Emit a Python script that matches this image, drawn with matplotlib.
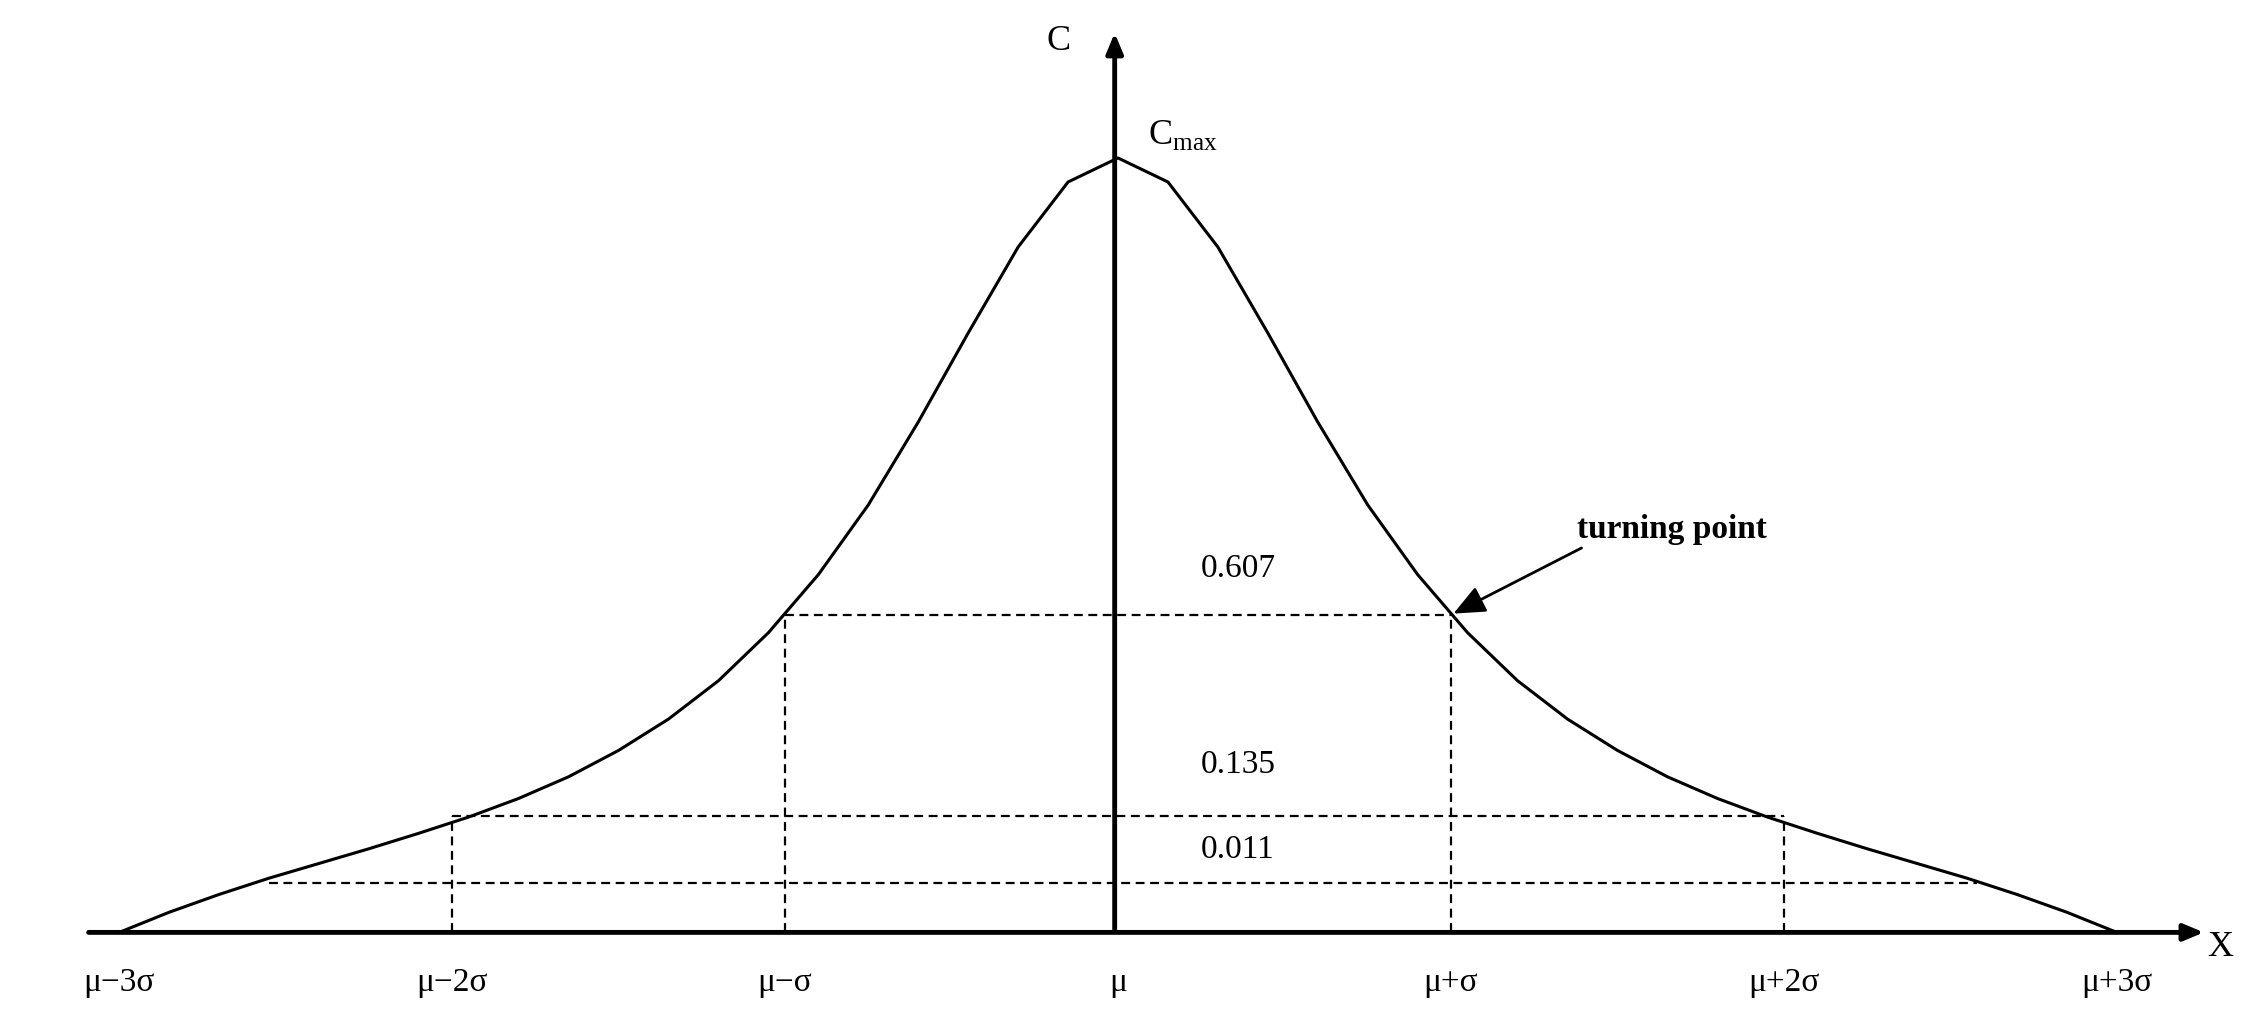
import matplotlib
matplotlib.use("Agg")
import matplotlib.pyplot as plt

# curve points (x in sigma units, height relative to Cmax)
xs_half = [0, 0.15, 0.3, 0.45, 0.6, 0.75, 0.9, 1.05, 1.2, 1.35, 1.5, 1.65, 1.8, 1.95,
           2.1, 2.25, 2.4, 2.55, 2.7, 2.85, 3.0]
ys_half = [1.0, 0.969, 0.885, 0.774, 0.659, 0.552, 0.462, 0.387, 0.325, 0.2755, 0.235,
           0.201, 0.173, 0.149, 0.128, 0.108, 0.089, 0.070, 0.049, 0.026, 0.0]
xs = [-x for x in xs_half[::-1]] + xs_half[1:]
ys = ys_half[::-1] + ys_half[1:]

levels = [0.41, 0.150, 0.064]
level_labels = ["0.607", "0.135", "0.011"]
level_extent = [(-1, 1), (-2, 2), (-2.55, 2.58)]
level_vertical = [True, True, False]
label_y = [0.47, 0.217, 0.107]

tick_pos = [-3, -2, -1, 0, 1, 2, 3]
tick_labels = ["μ−3σ", "μ−2σ", "μ−σ", "μ", "μ+σ", "μ+2σ", "μ+3σ"]

plt.rcParams['font.family'] = ['Liberation Serif', 'DejaVu Serif']
fig = plt.figure(figsize=(22.5, 10.23), dpi=100)
ax = fig.add_axes([0, 0, 1, 1])
ax.set_xlim(-3.358, 3.40)
ax.set_ylim(-0.117, 1.204)
ax.axis('off')

ax.plot(xs, ys, color='black', lw=2.2, zorder=3)

for lv, (a, b), vert in zip(levels, level_extent, level_vertical):
    ax.plot([a, b], [lv, lv], color='black', lw=1.6, ls=(0, (4, 2.5)))
    if vert:
        for xv in (a, b):
            ax.plot([xv, xv], [0, lv], color='black', lw=1.6, ls=(0, (4, 2.5)))

for lab, yy in zip(level_labels, label_y):
    ax.text(0.36, yy, lab, fontsize=24, ha='center', va='center')

# axes arrows
ax.annotate("", xy=(3.27, 0), xytext=(-3.10, 0),
            arrowprops=dict(arrowstyle='-|>,head_length=1.2,head_width=0.5', lw=3.5, color='black'))
ax.annotate("", xy=(-0.01, 1.165), xytext=(-0.01, 0),
            arrowprops=dict(arrowstyle='-|>,head_length=1.2,head_width=0.5', lw=3.5, color='black'))

for p, t in zip(tick_pos, tick_labels):
    ax.text(p, -0.065, t, fontsize=24, ha='center', va='center')

ax.text(-0.18, 1.15, "C", fontsize=26, ha='center', va='center')
ax.text(3.31, -0.02, "X", fontsize=26, ha='center', va='center')
ax.text(0.09, 1.03, r"C$_{\mathregular{max}}$", fontsize=26, ha='left', va='center')

ax.annotate("turning point", xy=(1.0, 0.41), xytext=(1.38, 0.52),
            fontsize=24, fontweight='bold', ha='left', va='center',
            arrowprops=dict(arrowstyle='-|>,head_length=0.8,head_width=0.35', lw=2, color='black',
                            shrinkA=0, shrinkB=2, relpos=(0.05, 0.0)))

fig.savefig("out.png", dpi=100)
